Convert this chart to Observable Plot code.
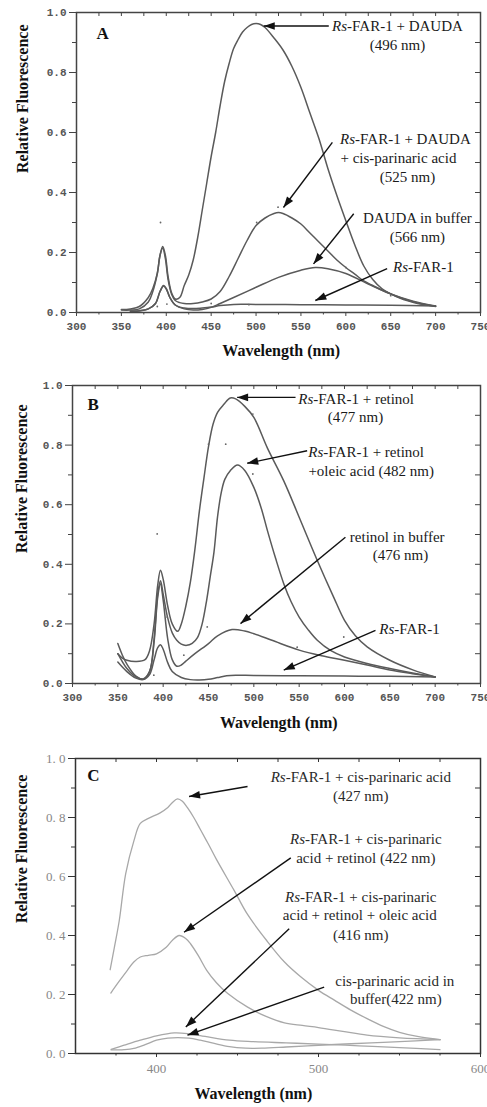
<!DOCTYPE html>
<html><head><meta charset="utf-8">
<script src="https://cdn.jsdelivr.net/npm/d3@7"></script>
<script src="https://cdn.jsdelivr.net/npm/@observablehq/plot@0.6"></script>
<style>body{margin:0;background:#fff;} #chart svg{display:block;}</style>
</head><body><div id="chart"></div>
<script>
// ---------------- DATA ----------------
// Panel A
const wlA1 = [350,360,370,380,385,390,393,396,399,402,406,410,415,420,425,430,435,440,445,450,455,460,465,470,475,480,485,490,495,500,505,510,520,530,540,550,560,570,580,590,600,610,620,630,640,650,660,670,680,690,700];
const fA1  = [0.01,0.012,0.02,0.05,0.08,0.13,0.19,0.22,0.19,0.12,0.065,0.045,0.05,0.09,0.125,0.175,0.25,0.34,0.43,0.52,0.60,0.69,0.77,0.83,0.88,0.91,0.935,0.95,0.96,0.963,0.96,0.95,0.915,0.875,0.82,0.75,0.665,0.58,0.48,0.39,0.306,0.225,0.155,0.11,0.08,0.062,0.048,0.038,0.03,0.025,0.02];
const wlA2 = [350,360,370,380,385,390,393,396,399,402,406,410,415,420,430,440,450,460,470,480,490,500,510,520,525,530,540,550,560,570,580,590,600,610,620,630,640,650,660,670,680,690,700];
const fA2  = [0.008,0.008,0.012,0.035,0.07,0.13,0.19,0.215,0.18,0.11,0.06,0.04,0.033,0.03,0.03,0.035,0.045,0.07,0.12,0.18,0.24,0.29,0.315,0.33,0.333,0.33,0.315,0.295,0.265,0.235,0.205,0.175,0.15,0.128,0.105,0.09,0.075,0.062,0.05,0.04,0.032,0.026,0.021];
const wlA3 = [360,370,380,388,393,397,400,404,410,420,430,440,450,460,475,500,525,550,566,580,600,625,650,675,700];
const fA3  = [0.005,0.006,0.012,0.03,0.07,0.09,0.08,0.05,0.025,0.012,0.008,0.01,0.017,0.03,0.05,0.084,0.117,0.141,0.15,0.146,0.13,0.095,0.062,0.038,0.022];
const wlA4 = [360,370,380,388,393,397,400,404,410,420,430,440,450,460,475,500,550,600,650,700];
const fA4  = [0.004,0.005,0.012,0.03,0.07,0.088,0.078,0.05,0.025,0.015,0.013,0.015,0.018,0.023,0.027,0.027,0.026,0.025,0.024,0.022];
const specksAx = [393.6,500.7,524.5,600,390,400.7,450,492,650];
const specksAy = [0.30,0.30,0.351,0.15,0.02,0.028,0.03,0.026,0.056];

// Panel B
const wlB1 = [350,355,360,370,380,385,390,394,397,400,405,410,416,420,425,430,435,440,445,450,455,460,467,474,480,490,500,515,533,550,570,588,600,612,625,650,676,700];
const fB1  = [0.10,0.085,0.078,0.074,0.08,0.11,0.2,0.33,0.38,0.35,0.26,0.2,0.175,0.2,0.26,0.34,0.45,0.58,0.69,0.795,0.87,0.91,0.937,0.958,0.955,0.93,0.893,0.79,0.68,0.558,0.413,0.29,0.212,0.16,0.123,0.078,0.045,0.022];
const wlB2 = [350,355,360,370,378,385,390,394,397,400,405,410,415,420,426,432,438,443,448,452,456,460,464,468,474,482,490,500,508,515,524,533,541,550,560,570,585,600,625,650,675,700];
const fB2  = [0.134,0.095,0.065,0.025,0.015,0.04,0.15,0.3,0.345,0.3,0.22,0.17,0.145,0.132,0.128,0.135,0.155,0.2,0.28,0.36,0.44,0.56,0.64,0.685,0.714,0.733,0.715,0.658,0.59,0.513,0.42,0.335,0.275,0.223,0.18,0.145,0.11,0.089,0.067,0.05,0.035,0.022];
const wlB3 = [350,360,370,378,385,390,394,397,400,405,410,415,420,425,435,450,460,476,490,500,520,550,575,600,625,650,675,700];
const fB3  = [0.10,0.05,0.022,0.015,0.04,0.14,0.29,0.335,0.28,0.15,0.08,0.058,0.062,0.075,0.1,0.134,0.16,0.181,0.176,0.167,0.145,0.112,0.093,0.078,0.062,0.045,0.033,0.022];
const wlB4 = [350,360,370,378,385,390,394,397,400,405,410,420,430,440,450,460,470,480,500,550,600,650,700];
const fB4  = [0.072,0.04,0.018,0.013,0.03,0.08,0.12,0.13,0.115,0.07,0.04,0.02,0.013,0.012,0.014,0.02,0.026,0.028,0.027,0.026,0.025,0.024,0.022];
const specksBx = [393.4,450,469,498.9,498.9,448.6,422.8,547.8,599.2,389.7,404.4];
const specksBy = [0.502,0.803,0.803,0.904,0.703,0.19,0.095,0.122,0.156,0.028,0.223];

// Panel C
const wlC1 = [371.4,374,377,381,386,390,395,402,407,410,413,416,419,423,427,432,437,448,456,468,479,489,500,510,520,530,540,550,561,575];
const fC1  = [0.284,0.36,0.45,0.61,0.72,0.78,0.797,0.815,0.834,0.852,0.863,0.855,0.834,0.8,0.76,0.71,0.658,0.552,0.473,0.383,0.31,0.26,0.214,0.18,0.147,0.118,0.092,0.072,0.058,0.047];
const wlC2 = [371.8,377,382,386,390,395,400,406,410,414,418,421,426,431,437,444,456,468,479,490,500,515,530,550,575];
const fC2  = [0.205,0.245,0.282,0.31,0.327,0.333,0.338,0.36,0.385,0.40,0.39,0.372,0.33,0.282,0.24,0.203,0.158,0.125,0.104,0.095,0.088,0.075,0.062,0.053,0.047];
const wlC3 = [372,380,390,400,411,420,430,445,460,480,500,525,550,575];
const fC3  = [0.014,0.028,0.045,0.06,0.07,0.067,0.058,0.045,0.04,0.036,0.032,0.026,0.02,0.013];
const wlC4 = [372,380,386,393,400,407,413,420,427,435,445,455,465,480,500,520,540,560,575];
const fC4  = [0.012,0.013,0.017,0.03,0.045,0.052,0.054,0.052,0.045,0.035,0.023,0.018,0.018,0.022,0.028,0.033,0.038,0.043,0.047];

// Annotations: [x (nm), y (relative fluorescence), text]
const labelsA = [
  [657.5,0.953,"Rs-FAR-1 + DAUDA"],[657.5,0.89,"(496 nm)"],
  [666.4,0.577,"Rs-FAR-1 + DAUDA"],[658.6,0.513,"+ cis-parinaric acid"],[668.6,0.45,"(525 nm)"],
  [679.7,0.313,"DAUDA in buffer"],[679.7,0.25,"(566 nm)"],
  [686.4,0.15,"Rs-FAR-1"]
];
const arrowsA = [[581,0.955,508.6,0.955],[585,0.567,530.5,0.35],[608.8,0.329,564,0.162],[646,0.146,566,0.04]];
const labelsB = [
  [612.9,0.955,"Rs-FAR-1 + retinol"],[612.1,0.893,"(477 nm)"],
  [623.9,0.775,"Rs-FAR-1 + retinol"],[629.4,0.712,"+oleic acid (482 nm)"],
  [658.1,0.491,"retinol in buffer"],[661.8,0.43,"(476 nm)"],
  [671.7,0.181,"Rs-FAR-1"]
];
const arrowsB = [[546,0.96,481.6,0.96],[558.8,0.781,492.7,0.739],[601,0.491,485.3,0.201],[634.2,0.178,533,0.045]];
const labelsC = [
  [526.1,0.935,"Rs-FAR-1 + cis-parinaric acid"],[526.1,0.871,"(427 nm)"],
  [529.2,0.725,"Rs-FAR-1 + cis-parinaric"],[529.2,0.663,"acid + retinol (422 nm)"],
  [526.1,0.53,"Rs-FAR-1 + cis-parinaric"],[525.5,0.468,"acid + retinol + oleic acid"],[526.1,0.402,"(416 nm)"],
  [547.1,0.246,"cis-parinaric acid in"],[547.7,0.183,"buffer(422 nm)"]
];
const arrowsC = [[456.2,0.905,420.1,0.871],[482.9,0.663,417,0.411],[481.9,0.423,418.1,0.09],[503.5,0.225,419.1,0.062]];

const xTicksAB = [300,350,400,450,500,550,600,650,700,750];
const xMinorAB = [325,375,425,475,525,575,625,675,725];
const xTicksC = [400,500,600];
const xMinorC = [375,425,450,475,525,550,575];
const yTicks = [0,0.2,0.4,0.6,0.8,1.0];
const yMinor = [0.1,0.3,0.5,0.7,0.9];
const xTitle = "Wavelength (nm)";
const yTitle = "Relative Fluorescence";

// ---------------- DRAWING ----------------
const SERIF = "'Liberation Serif', 'Times New Roman', serif";
const toRows = (wl, f, s) => wl.map((w, i) => ({wl: w, f: f[i], s}));
const headSymbol = {draw(ctx) { const L = 11, w = 3.8; ctx.moveTo(0, 0); ctx.lineTo(-w, L); ctx.lineTo(w, L); ctx.closePath(); }};

function panel(cfg) {
  const {W, H, mt, mb, ml, mr, xDomain} = cfg;
  const sx = Plot.scale({x: {domain: xDomain, range: [ml, W - mr]}});
  const sy = Plot.scale({y: {domain: [0, 1], range: [H - mb, mt]}});
  const arrows = cfg.arrows.map(([x1, y1, x2, y2]) => ({x1, y1, x2, y2,
    a: Math.atan2(sy.apply(y2) - sy.apply(y1), sx.apply(x2) - sx.apply(x1)) * 180 / Math.PI + 90}));
  const labels = cfg.labels.map(([x, y, text]) => ({x, y, text}));
  const rows = cfg.series.flatMap(([wl, f], i) => toRows(wl, f, i));
  const specks = cfg.specks ? cfg.specks[0].map((x, i) => ({x, y: cfg.specks[1][i]})) : [];
  const pw = W - ml - mr, ph = H - mt - mb;
  const tickFont = cfg.tickFont;
  const chart = Plot.plot({
    width: W, height: H, marginTop: mt, marginBottom: mb, marginLeft: ml, marginRight: mr,
    style: {fontFamily: SERIF, background: "white", overflow: "visible"},
    x: {domain: xDomain}, y: {domain: [0, 1]},
    marks: [
      Plot.line(rows, {x: "wl", y: "f", z: "s", stroke: cfg.lineColor, strokeWidth: cfg.lineWidth, curve: "catmull-rom"}),
      Plot.dot(specks, {x: "x", y: "y", r: 0.9, fill: "#666", stroke: "none"}),
      Plot.frame({stroke: cfg.frameColor, strokeWidth: 1.5}),
      Plot.axisX({ticks: cfg.xTicks, tickSize: 4, tickPadding: 6, tickFormat: d => String(d), label: null,
        fontFamily: tickFont.family, fontSize: tickFont.size, fontWeight: tickFont.weight, color: tickFont.color, stroke: cfg.frameColor}),
      Plot.axisX({ticks: cfg.xMinor, tickSize: 2.5, tickFormat: () => "", label: null, stroke: cfg.frameColor}),
      Plot.axisY({ticks: yTicks, tickSize: 7, tickPadding: 3, tickFormat: cfg.yFormat, label: null,
        fontFamily: tickFont.family, fontSize: tickFont.size, fontWeight: tickFont.weight, color: tickFont.color, stroke: cfg.frameColor}),
      Plot.axisY({ticks: yMinor, tickSize: 4, tickFormat: () => "", label: null, stroke: cfg.frameColor}),
      Plot.tickX(cfg.xTicks.concat(cfg.xMinor).filter(d => d > xDomain[0] && d < xDomain[1]), {x: d => d, insetBottom: ph - 4, stroke: cfg.frameColor}),
      Plot.tickY(yTicks.concat(yMinor).filter(d => d > 0 && d < 1), {y: d => d, insetLeft: pw - 5, stroke: cfg.frameColor}),
      Plot.link(arrows, {x1: "x1", y1: "y1", x2: "x2", y2: "y2", stroke: "#111", strokeWidth: 1.4}),
      Plot.dot(arrows, {x: "x2", y: "y2", symbol: headSymbol, rotate: "a", fill: "#111", stroke: "none", r: 5}),
      Plot.text(labels, {x: "x", y: "y", text: "text", fontFamily: SERIF, fontSize: 15, fill: cfg.textColor, textAnchor: "middle"}),
      Plot.text([cfg.panel], {x: cfg.panelXY[0], y: cfg.panelXY[1], text: d => d, fontFamily: SERIF, fontSize: 17, fontWeight: "bold", fill: "#111"}),
      Plot.text([xTitle], {x: cfg.xTitleX, frameAnchor: "bottom", dy: cfg.xTitleDy, text: d => d, fontFamily: SERIF, fontSize: 16, fontWeight: "bold", fill: "#111"}),
      Plot.text([yTitle], {y: cfg.yTitleY, frameAnchor: "left", dx: cfg.yTitleDx, rotate: -90, text: d => d, fontFamily: SERIF, fontSize: 16, fontWeight: "bold", fill: "#111"})
    ]
  });
  const ns = "http://www.w3.org/2000/svg";
  chart.querySelectorAll("text").forEach(t => {
    const nodes = t.querySelectorAll("tspan").length ? [...t.querySelectorAll("tspan")] : [t];
    nodes.forEach(n => {
      if (n.textContent.startsWith("Rs-")) {
        const rest = n.textContent.slice(2);
        n.textContent = "";
        const it = document.createElementNS(ns, "tspan");
        it.setAttribute("font-style", "italic");
        it.textContent = "Rs";
        n.append(it, rest);
      }
    });
  });
  return chart;
}

const monoFont = {family: "'Liberation Mono', monospace", size: 11, weight: "bold", color: "#555"};
const serifFont = {family: SERIF, size: 13, weight: "normal", color: "#888"};
const f1 = d3.format(".1f");

const root = document.getElementById("chart");
root.append(panel({
  W: 487, H: 370, mt: 12, mb: 58, ml: 76, mr: 7, xDomain: [300, 750],
  series: [[wlA1, fA1], [wlA2, fA2], [wlA3, fA3], [wlA4, fA4]], specks: [specksAx, specksAy],
  labels: labelsA, arrows: arrowsA, xTicks: xTicksAB, xMinor: xMinorAB, yFormat: f1,
  tickFont: monoFont, lineColor: "#5a5a5a", lineWidth: 1.5, frameColor: "#444", textColor: "#1a1a1a",
  panel: "A", panelXY: [329, 0.93], xTitleX: 528, xTitleDy: 43, yTitleY: 0.465, yTitleDx: -54
}));
root.append(panel({
  W: 487, H: 370, mt: 15, mb: 57, ml: 72, mr: 7, xDomain: [300, 750],
  series: [[wlB1, fB1], [wlB2, fB2], [wlB3, fB3], [wlB4, fB4]], specks: [specksBx, specksBy],
  labels: labelsB, arrows: arrowsB, xTicks: xTicksAB, xMinor: xMinorAB, yFormat: f1,
  tickFont: monoFont, lineColor: "#5a5a5a", lineWidth: 1.5, frameColor: "#444", textColor: "#1a1a1a",
  panel: "B", panelXY: [322.8, 0.937], xTitleX: 527.5, xTitleDy: 44, yTitleY: 0.438, yTitleDx: -51
}));
root.append(panel({
  W: 487, H: 367, mt: 18, mb: 54, ml: 75, mr: 7, xDomain: [350, 600],
  series: [[wlC1, fC1], [wlC2, fC2], [wlC3, fC3], [wlC4, fC4]], specks: null,
  labels: labelsC, arrows: arrowsC, xTicks: xTicksC, xMinor: xMinorC, yFormat: d => f1(d).replace(".", ". "),
  tickFont: serifFont, lineColor: "#a8a8a8", lineWidth: 1.3, frameColor: "#333", textColor: "#2a2a2a",
  panel: "C", panelXY: [361.1, 0.941], xTitleX: 459.8, xTitleDy: 45, yTitleY: 0.442, yTitleDx: -54
}));
</script></body></html>
